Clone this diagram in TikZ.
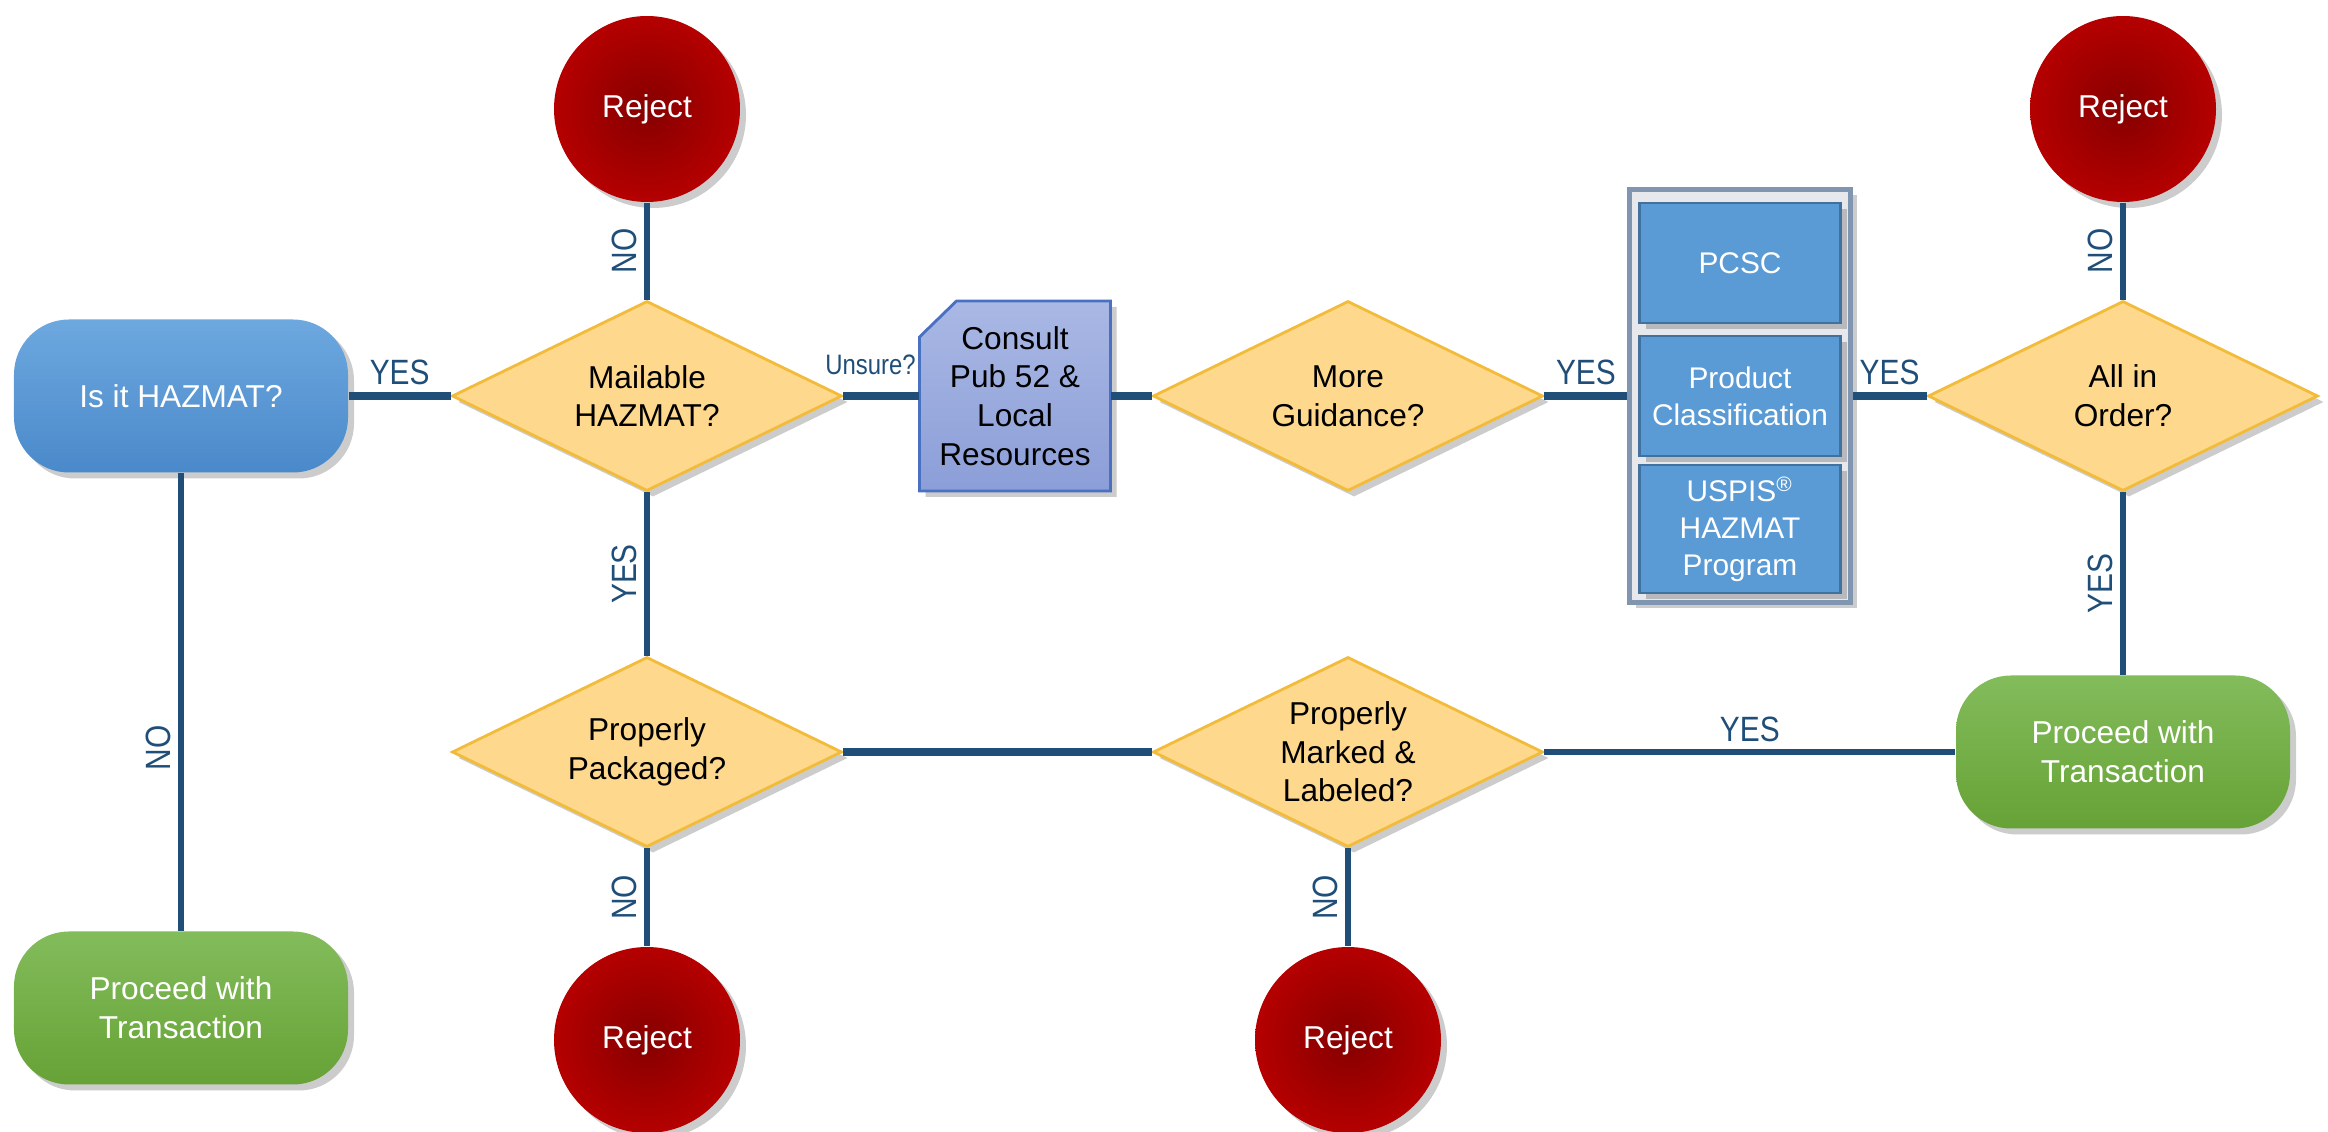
\documentclass[tikz,border=0pt]{standalone}
\usepackage{fontspec}
\setmainfont{Liberation Sans}
\newfontfamily\narrowfont{Liberation Sans}[FakeStretch=0.85]
\usetikzlibrary{positioning,shapes.geometric,shadows}

\definecolor{flowline}{HTML}{1F4E79}
\definecolor{startTop}{HTML}{6DA8DF}
\definecolor{startBot}{HTML}{4A89CA}
\definecolor{goTop}{HTML}{83BC5B}
\definecolor{goBot}{HTML}{66A236}
\definecolor{askFill}{HTML}{FED88C}
\definecolor{askLine}{HTML}{F2BC3A}
\definecolor{rejIn}{HTML}{860000}
\definecolor{rejOut}{HTML}{B50000}
\definecolor{pubTop}{HTML}{A9B8E4}
\definecolor{pubBot}{HTML}{8C9ED8}
\definecolor{pubLine}{HTML}{4A70C2}
\definecolor{itemFill}{HTML}{5B9BD5}
\definecolor{itemLine}{HTML}{41719C}
\definecolor{trayFill}{HTML}{E6E8EB}
\definecolor{trayLine}{HTML}{8095B0}

\begin{document}
\begin{tikzpicture}[on grid, font=\fontsize{9}{11}\selectfont,
    shadowed/.style = {drop shadow={shadow xshift=0.6mm, shadow yshift=-0.6mm, opacity=0.2, fill=black}},
    terminal/.style = {rectangle, rounded corners=0.55cm, minimum width=3.34cm, minimum height=1.53cm, align=center, text=white, shadowed},
    start/.style    = {terminal, top color=startTop, bottom color=startBot},
    proceed/.style  = {terminal, top color=goTop, bottom color=goBot},
    decision/.style = {diamond, aspect=2, minimum width=3.9cm, minimum height=1.9cm, inner sep=0pt, fill=askFill, draw=askLine, line width=0.8pt, align=center, shadowed},
    reject/.style   = {circle, minimum size=1.86cm, inner sep=0pt, inner color=rejIn, outer color=rejOut, text=white, shadowed},
    pubshape/.style = {top color=pubTop, bottom color=pubBot, draw=pubLine, line width=0.8pt, shadowed},
    pub/.style      = {rectangle, minimum width=1.91cm, minimum height=1.9cm, inner sep=0pt, align=center},
    tray/.style     = {rectangle, minimum width=2.21cm, minimum height=4.13cm, fill=trayFill, draw=trayLine, line width=1.2pt, shadowed},
    trayitem/.style = {rectangle, minimum width=2.01cm, minimum height=1.2cm, fill=itemFill, draw=itemLine, line width=0.8pt, text=white, align=center, font=\fontsize{8.5}{10.5}\selectfont, shadowed},
    flow/.style     = {draw=flowline, line width=1.6pt},
    heavy/.style    = {line width=2.3pt},
    lbl/.style      = {text=flowline, font=\narrowfont\fontsize{10}{12}\selectfont, inner sep=2pt},
    vlbl/.style     = {lbl, rotate=90, anchor=south}]

    \useasboundingbox (0,0) rectangle (23.28,-11.32);

    \node[start]                            (hazmat)   at (1.81,-3.96) {Is it HAZMAT?};
    \node[decision, right=4.66cm of hazmat] (mailable) {Mailable\\HAZMAT?};
    \node[reject, above=2.87cm of mailable] (rejA)     {Reject};
    % document shape with the cut corner
    \coordinate[right=3.68cm of mailable]   (pubc);
    \path[pubshape] ([shift={(-0.955,-0.95)}]pubc) -- ([shift={(0.955,-0.95)}]pubc)
        -- ([shift={(0.955,0.95)}]pubc) -- ([shift={(-0.585,0.95)}]pubc)
        -- ([shift={(-0.955,0.59)}]pubc) -- cycle;
    \node[pub]                              (consult)  at (pubc) {Consult\\Pub 52 \&\\Local\\Resources};
    \node[decision, right=3.33cm of consult](guidance) {More\\Guidance?};
    \node[tray, right=3.92cm of guidance]   (tools)    {};
    \node[trayitem, above=1.33cm of tools]  (pcsc)     {PCSC};
    \node[trayitem]                         (product)  at (tools) {Product\\Classification};
    \node[trayitem, below=1.33cm of tools]  (uspis)    {USPIS\textsuperscript{\textregistered}\\HAZMAT\\Program};
    \node[decision, right=3.83cm of tools]  (order)    {All in\\Order?};
    \node[reject, above=2.87cm of order]    (rejB)     {Reject};
    \node[proceed, below=3.56cm of order]   (goB)      {Proceed with\\Transaction};
    \node[decision, below=3.56cm of mailable](packaged){Properly\\Packaged?};
    \node[reject, below=2.88cm of packaged] (rejC)     {Reject};
    \node[decision, below=3.56cm of guidance](marked)  {Properly\\Marked \&\\Labeled?};
    \node[reject, below=2.88cm of marked]   (rejD)     {Reject};
    \node[proceed, below=6.12cm of hazmat]  (goA)      {Proceed with\\Transaction};

    \draw[flow]
        (hazmat)   edge[heavy] node[lbl, above] {YES} (mailable)
        (mailable) edge[heavy] node[lbl, pos=1, anchor=south east, xshift=0.8mm, yshift=1mm, font=\narrowfont\fontsize{8}{10}\selectfont] {Unsure?} (consult)
        (consult)  edge[heavy] (guidance)
        (guidance) edge[heavy] node[lbl, above] {YES} (tools)
        (tools)    edge[heavy] node[lbl, above] {YES} (order)
        (packaged) edge[heavy] (marked)
        (mailable) edge node[vlbl] {NO} (rejA)
        (mailable) edge node[vlbl] {YES} (packaged)
        (hazmat)   edge node[vlbl, pos=0.6] {NO} (goA)
        (packaged) edge node[vlbl] {NO} (rejC)
        (marked)   edge node[vlbl] {NO} (rejD)
        (marked)   edge node[lbl, above] {YES} (goB)
        (order)    edge node[vlbl] {NO} (rejB)
        (order)    edge node[vlbl] {YES} (goB)
        ;
\end{tikzpicture}
\end{document}
